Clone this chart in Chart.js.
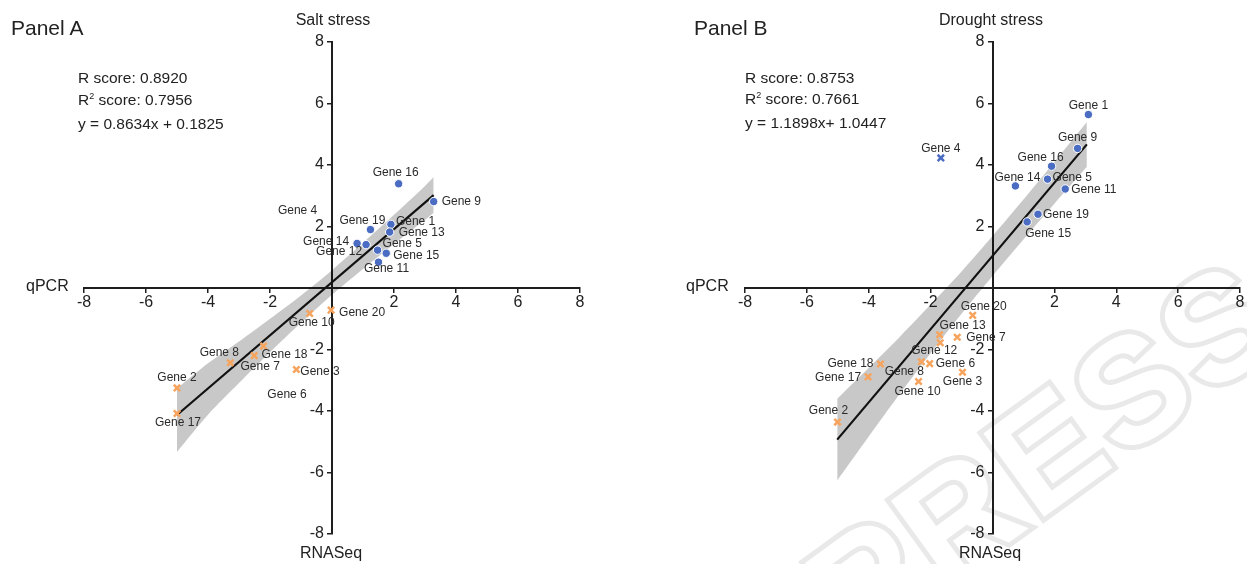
<!DOCTYPE html>
<html><head><meta charset="utf-8">
<script src="https://cdn.jsdelivr.net/npm/chart.js@4.4.0/dist/chart.umd.min.js"></script>
<style>
html,body{margin:0;padding:0;background:#fff;}
body{width:1247px;height:564px;position:relative;overflow:hidden;font-family:'Liberation Sans',Arial,sans-serif;color:#222;}
.cv{position:absolute;top:0;height:564px;z-index:2;}
.t{position:absolute;white-space:nowrap;z-index:3;}
.sup{font-size:9px;position:relative;top:-6px;}
.wm{position:absolute;z-index:1;left:1045px;top:452px;transform:translate(-50%,-50%) rotate(-36deg);font-size:150px;font-weight:bold;line-height:150px;white-space:nowrap;letter-spacing:6px;}
.wm span{position:absolute;left:0;top:0;}
.wm .s{color:transparent;-webkit-text-stroke:10px #e9e9e9;}
.wm .f{color:#fff;}
</style></head><body>
<div class="wm"><span style="position:static;visibility:hidden">PRESS</span><span class="s">PRESS</span><span class="f">PRESS</span></div>
<div class="cv" style="left:0;width:623px"><canvas id="cA"></canvas></div>
<div class="cv" style="left:623px;width:624px"><canvas id="cB"></canvas></div>

<div class="t" style="left:11px;top:17px;font-size:21px;line-height:21px">Panel A</div>
<div class="t" style="left:333px;top:12px;font-size:16px;line-height:16px;transform:translateX(-50%)">Salt stress</div>
<div class="t" style="left:78px;top:67px;font-size:15.5px;line-height:21.5px">R score: 0.8920<br>R<span class="sup">2</span> score: 0.7956<br>y = 0.8634x + 0.1825</div>
<div class="t" style="left:26px;top:278px;font-size:16px;line-height:16px">qPCR</div>
<div class="t" style="left:331px;top:545px;font-size:16px;line-height:16px;transform:translateX(-50%)">RNASeq</div>

<div class="t" style="left:694px;top:17px;font-size:21px;line-height:21px">Panel B</div>
<div class="t" style="left:991px;top:12px;font-size:16px;line-height:16px;transform:translateX(-50%)">Drought stress</div>
<div class="t" style="left:745px;top:67px;font-size:15.5px;line-height:21px">R score: 0.8753<br>R<span class="sup">2</span> score: 0.7661<br>y = 1.1898x+ 1.0447</div>
<div class="t" style="left:686px;top:278px;font-size:16px;line-height:16px">qPCR</div>
<div class="t" style="left:990px;top:545px;font-size:16px;line-height:16px;transform:translateX(-50%)">RNASeq</div>

<script>
// ---------- Panel A: Salt stress ----------
const saltUpGenes = ['Gene 16','Gene 9','Gene 1','Gene 13','Gene 19','Gene 14','Gene 12','Gene 5','Gene 15','Gene 11'];
const saltUpX     = [2.15, 3.28, 1.90, 1.86, 1.24, 0.81, 1.10, 1.47, 1.75, 1.50];
const saltUpY     = [3.39, 2.81, 2.07, 1.82, 1.90, 1.45, 1.41, 1.23, 1.13, 0.84];
const saltDownGenes = ['Gene 20','Gene 10','Gene 18','Gene 7','Gene 8','Gene 3','Gene 2','Gene 17'];
const saltDownX     = [-0.03, -0.72, -2.21, -2.51, -3.28, -1.15, -5.00, -5.00];
const saltDownY     = [-0.72, -0.83, -1.89, -2.20, -2.43, -2.65, -3.25, -4.08];
const saltLabelOnly  = ['Gene 4','Gene 6'];
const saltLabelOnlyX = [-1.11, -1.45];
const saltLabelOnlyY = [2.52, -3.46];
const saltFitX = [-5.00, 3.28];
const saltFitY = [-4.13, 3.02];
const saltBandX     = [-5.00, -4, -3, -2, -1, 0, 1, 2, 3, 3.28];
const saltBandUpper = [-3.27, -2.45, -1.74, -1.00, -0.24, 0.58, 1.47, 2.38, 3.32, 3.61];
const saltBandLower = [-5.33, -4.12, -3.09, -2.09, -1.13, -0.22, 0.62, 1.43, 2.22, 2.45];

// ---------- Panel B: Drought stress ----------
const droughtUpGenes = ['Gene 1','Gene 9','Gene 16','Gene 14','Gene 5','Gene 11','Gene 19','Gene 15'];
const droughtUpX     = [3.10, 2.75, 1.91, 0.74, 1.78, 2.35, 1.47, 1.12];
const droughtUpY     = [5.64, 4.54, 3.96, 3.32, 3.54, 3.22, 2.40, 2.15];
const droughtOutGenes = ['Gene 4'];
const droughtOutX     = [-1.67];
const droughtOutY     = [4.23];
const droughtDownGenes = ['Gene 20','Gene 13','Gene 7','Gene 12','Gene 8','Gene 6','Gene 3','Gene 10','Gene 18','Gene 17','Gene 2'];
const droughtDownX     = [-0.64, -1.71, -1.14, -1.69, -2.30, -2.03, -0.97, -2.39, -3.62, -4.02, -5.01];
const droughtDownY     = [-0.89, -1.52, -1.60, -1.78, -2.40, -2.46, -2.74, -3.04, -2.47, -2.89, -4.36];
const droughtFitX = [-5.02, 3.05];
const droughtFitY = [-4.93, 4.67];
const droughtBandX     = [-5.02, -4, -3, -2, -1, 0, 1, 2, 3.05];
const droughtBandUpper = [-3.60, -2.59, -1.59, -0.54, 0.54, 1.69, 2.88, 4.10, 5.40];
const droughtBandLower = [-6.26, -4.83, -3.45, -2.12, -0.84, 0.39, 1.58, 2.74, 3.94];

// tick values
const axisTicks = [-8, -6, -4, -2, 0, 2, 4, 6, 8];

// label placement (pixel offset from marker + alignment) – layout only
const saltUpPlace   = [[-3,-11,'center'],[8,0,'left'],[5,-3,'left'],[9,1,'left'],[-8,-9,'center'],[-8,-2,'right'],[-4,7,'right'],[5,-6,'left'],[7,2,'left'],[8,7,'center']];
const saltDownPlace = [[8,3,'left'],[2,9,'center'],[-2,9,'left'],[6,11,'center'],[-11,-10,'center'],[4,2,'left'],[0,-10,'center'],[1,9,'center']];
const droughtUpPlace   = [[0,-9,'center'],[0,-11,'center'],[-11,-9,'center'],[2,-8,'center'],[5,-1,'left'],[6,1,'left'],[5,0,'left'],[21,12,'center']];
const droughtOutPlace  = [[0,-9,'center']];
const droughtDownPlace = [[11,-9,'center'],[23,-9,'center'],[9,0,'left'],[-6,8,'center'],[-17,10,'center'],[6,0,'left'],[0,9,'center'],[-1,10,'center'],[-7,0,'right'],[-7,1,'right'],[-9,-11,'center']];

const BLUE = '#4a6cc2', ORANGE = '#f6a45e', BAND = 'rgba(0,0,0,0.215)', INK = '#1e1e1e';
const FONT = "'Liberation Sans', Arial, sans-serif";
Chart.defaults.font.family = FONT;
Chart.defaults.color = '#222';

const pts = (xs, ys) => xs.map((x, i) => ({x, y: ys[i]}));

const labelPlugin = {
  id: 'geneLabels',
  afterDatasetsDraw(chart, args, opts) {
    const ctx = chart.ctx, xs = chart.scales.x, ys = chart.scales.y;
    ctx.save();
    ctx.font = '12px ' + FONT;
    ctx.fillStyle = '#2a2a2a';
    ctx.textBaseline = 'middle';
    (opts.groups || []).forEach(g => {
      g.names.forEach((n, i) => {
        const [dx, dy, al] = g.place[i];
        ctx.textAlign = al;
        ctx.fillText(n, xs.getPixelForValue(g.x[i]) + dx, ys.getPixelForValue(g.y[i]) + dy);
      });
    });
    ctx.restore();
  }
};

function axis(isX) {
  return {
    type: 'linear', min: -8, max: 8,
    position: isX ? {y: 0} : {x: 0},
    afterBuildTicks: s => { s.ticks = axisTicks.map(v => ({value: v})); },
    ticks: {
      autoSkip: false, maxRotation: 0, minRotation: 0,
      font: {size: 16}, color: '#222', padding: isX ? 1 : 3,
      // y labels are right-aligned on the axis line; an en space keeps them clear of the tick marks
      callback: v => (v === 0 ? '' : (isX ? String(v) : String(v) + '\u2002'))
    },
    grid: {drawOnChartArea: false, drawTicks: true, tickLength: 4, color: INK, lineWidth: 1.5},
    border: {display: true, color: INK, width: 2}
  };
}

function makeChart(id, cfg) {
  const datasets = [];
  cfg.points.forEach(p => datasets.push({
    data: pts(p.x, p.y), showLine: false, order: 0,
    pointStyle: p.style, pointRadius: p.style === 'circle' ? 4.2 : 4.5,
    pointBackgroundColor: p.color, pointBorderColor: p.style === 'circle' ? '#ffffff' : p.color,
    pointBorderWidth: p.style === 'circle' ? 1 : 2.5
  }));
  datasets.push({data: pts(cfg.fitX, cfg.fitY), showLine: true, order: 1, borderColor: '#111', borderWidth: 2.2, pointRadius: 0, fill: false});
  datasets.push({data: pts(cfg.bandX, cfg.bandU), showLine: true, order: 2, borderWidth: 0, borderColor: 'rgba(0,0,0,0)', pointRadius: 0, fill: '+1', backgroundColor: BAND, tension: 0.3});
  datasets.push({data: pts(cfg.bandX, cfg.bandL), showLine: true, order: 3, borderWidth: 0, borderColor: 'rgba(0,0,0,0)', pointRadius: 0, fill: false, tension: 0.3});
  return new Chart(document.getElementById(id), {
    type: 'scatter',
    data: {datasets},
    options: {
      responsive: true, maintainAspectRatio: false, animation: false,
      layout: {padding: cfg.pad},
      plugins: {legend: {display: false}, tooltip: {enabled: false}, geneLabels: {groups: cfg.labels}},
      scales: {x: axis(true), y: axis(false)}
    },
    plugins: [labelPlugin]
  });
}

makeChart('cA', {
  pad: {left: 84, right: 43, top: 42, bottom: 30},
  points: [
    {x: saltUpX, y: saltUpY, color: BLUE, style: 'circle'},
    {x: saltDownX, y: saltDownY, color: ORANGE, style: 'crossRot'}
  ],
  fitX: saltFitX, fitY: saltFitY,
  bandX: saltBandX, bandU: saltBandUpper, bandL: saltBandLower,
  labels: [
    {names: saltUpGenes, x: saltUpX, y: saltUpY, place: saltUpPlace},
    {names: saltDownGenes, x: saltDownX, y: saltDownY, place: saltDownPlace},
    {names: saltLabelOnly, x: saltLabelOnlyX, y: saltLabelOnlyY, place: saltLabelOnly.map(() => [0, 0, 'center'])}
  ]
});

makeChart('cB', {
  pad: {left: 122, right: 6, top: 42, bottom: 30},
  points: [
    {x: droughtUpX, y: droughtUpY, color: BLUE, style: 'circle'},
    {x: droughtOutX, y: droughtOutY, color: BLUE, style: 'crossRot'},
    {x: droughtDownX, y: droughtDownY, color: ORANGE, style: 'crossRot'}
  ],
  fitX: droughtFitX, fitY: droughtFitY,
  bandX: droughtBandX, bandU: droughtBandUpper, bandL: droughtBandLower,
  labels: [
    {names: droughtUpGenes, x: droughtUpX, y: droughtUpY, place: droughtUpPlace},
    {names: droughtOutGenes, x: droughtOutX, y: droughtOutY, place: droughtOutPlace},
    {names: droughtDownGenes, x: droughtDownX, y: droughtDownY, place: droughtDownPlace}
  ]
});
</script>
</body></html>
